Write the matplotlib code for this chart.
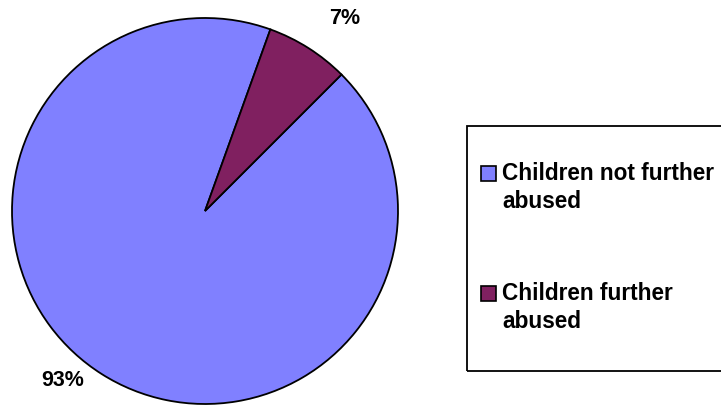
import matplotlib
matplotlib.use("Agg")
import matplotlib.pyplot as plt
from matplotlib.patches import Rectangle

categories = ["Children not further\nabused", "Children further\nabused"]
values = [93, 7]
pct_labels = ["93%", "7%"]
colors = ["#8080FF", "#802060"]

W, H = 721, 416
plt.rcParams['font.family'] = ['Liberation Sans', 'DejaVu Sans']
fig = plt.figure(figsize=(W / 100, H / 100), dpi=100)
fig.patch.set_facecolor("white")

cx, cy, r = 205, 211, 193
ax = fig.add_axes([(cx - r) / W, (H - cy - r) / H, 2 * r / W, 2 * r / H])
wedges, texts = ax.pie(values, colors=colors, startangle=45.0, counterclock=False,
                       labels=pct_labels,
                       wedgeprops=dict(edgecolor="black", linewidth=1.3),
                       textprops=dict(fontsize=15.5, fontweight="bold", color="black"))
ax.set_xlim(-1, 1)
ax.set_ylim(-1, 1)
ax.set_aspect("equal")

# label positions (pixels from top-left)
label_px = [(63, 380), (345, 19)]
for t, (px, py) in zip(texts, label_px):
    t.set_position(((px - cx) / r, (cy - py) / r))
    t.set_ha("center")
    t.set_va("center")

# legend frame
fig.patches.append(Rectangle((467 / W, (H - 371) / H), (730 - 467) / W, (371 - 126) / H,
                             transform=fig.transFigure, fill=False, edgecolor="black",
                             linewidth=1.3))
entry_tops = [180, 300]
for label, color, base in zip(categories, colors, entry_tops):
    fig.patches.append(Rectangle((481 / W, (H - base - 1) / H), 15 / W, 15 / H,
                                 transform=fig.transFigure, facecolor=color,
                                 edgecolor="black", linewidth=1.2))
    for j, line in enumerate(label.split("\n")):
        fig.text(502 / W, (H - base - 28 * j) / H, line, fontsize=16.3,
                 fontweight="bold", ha="left", va="baseline")

fig.savefig("out.png", dpi=100, facecolor="white")
